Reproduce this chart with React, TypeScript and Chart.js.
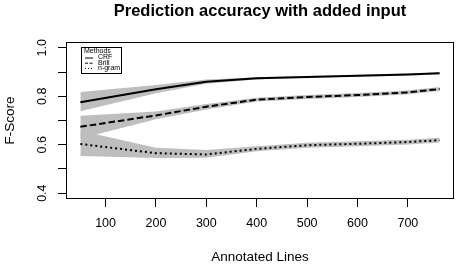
import React, { useEffect, useRef } from "react";
import { Chart, registerables } from "chart.js";

Chart.register(...registerables);

const TITLE = "Prediction accuracy with added input";
const X_TITLE = "Annotated Lines";
const Y_TITLE = "F-Score";
const LEGEND_TITLE = "Methods";

const xValues = [50, 200, 300, 400, 500, 600, 700, 763];

const seriesNames = ["CRF", "Brill", "n-gram"];

const crfMean = [0.775, 0.829, 0.86, 0.874, 0.88, 0.885, 0.89, 0.895];
const crfLow = [0.738, 0.812, 0.852, 0.869, 0.876, 0.881, 0.886, 0.891];
const crfHigh = [0.818, 0.847, 0.869, 0.879, 0.884, 0.889, 0.894, 0.899];

const brillMean = [0.674, 0.721, 0.757, 0.786, 0.797, 0.805, 0.816, 0.83];
const brillLow = [0.626, 0.705, 0.745, 0.778, 0.789, 0.797, 0.808, 0.822];
const brillHigh = [0.72, 0.737, 0.768, 0.794, 0.805, 0.813, 0.824, 0.838];

const ngramMean = [0.603, 0.565, 0.56, 0.583, 0.598, 0.604, 0.611, 0.619];
const ngramLow = [0.553, 0.545, 0.546, 0.573, 0.588, 0.594, 0.601, 0.609];
const ngramHigh = [0.658, 0.588, 0.578, 0.594, 0.608, 0.614, 0.621, 0.629];

const xTickValues = [100, 200, 300, 400, 500, 600, 700];
const yTickValues = [0.4, 0.5, 0.6, 0.7, 0.8, 0.9, 1.0];
const yTickLabels = ["0.4", "", "0.6", "", "0.8", "", "1.0"];

const X_MIN = 21.5;
const X_MAX = 791.5;
const Y_MIN = 0.376;
const Y_MAX = 1.024;

const FONT = "'Liberation Sans', Arial, Helvetica, sans-serif";
const BAND = "#BEBEBE";

const toPts = (ys: number[]) => xValues.map((x, i) => ({ x, y: ys[i] }));

const lineDashes = [[], [6.5, 3], [2, 3]];

const framePlugin = {
  id: "frameBox",
  afterDatasetsDraw(chart: any) {
    const { ctx, chartArea } = chart;
    ctx.save();
    ctx.strokeStyle = "#000";
    ctx.lineWidth = 1;
    ctx.strokeRect(
      Math.round(chartArea.left) + 0.5,
      Math.round(chartArea.top) + 0.5,
      Math.round(chartArea.right - chartArea.left) - 1,
      Math.round(chartArea.bottom - chartArea.top) - 1
    );
    ctx.restore();
  },
};

const legendPlugin = {
  id: "rLegend",
  afterDraw(chart: any) {
    const { ctx, chartArea } = chart;
    const left = chartArea.left + 15;
    const top = chartArea.top + 5;
    const w = 40;
    const h = 26;
    ctx.save();
    ctx.fillStyle = "#fff";
    ctx.fillRect(left, top, w, h);
    ctx.strokeStyle = "#000";
    ctx.lineWidth = 1;
    ctx.strokeRect(left + 0.5, top + 0.5, w, h);
    ctx.fillStyle = "#000";
    ctx.font = `7px ${FONT}`;
    ctx.textBaseline = "middle";
    ctx.textAlign = "left";
    ctx.fillText(LEGEND_TITLE, left + 3, top + 4);
    seriesNames.forEach((name, i) => {
      const y = top + 10.5 + i * 5.2;
      ctx.beginPath();
      ctx.setLineDash(i === 0 ? [] : i === 1 ? [3, 1.5] : [1, 2]);
      ctx.lineWidth = 1;
      ctx.moveTo(left + 4, y + 0.5);
      ctx.lineTo(left + 12, y + 0.5);
      ctx.stroke();
      ctx.setLineDash([]);
      ctx.fillText(name, left + 17, y);
    });
    ctx.restore();
  },
};

export default function App() {
  const ref = useRef<HTMLCanvasElement | null>(null);

  useEffect(() => {
    if (!ref.current) return;
    const means = [crfMean, brillMean, ngramMean];
    const lows = [crfLow, brillLow, ngramLow];
    const highs = [crfHigh, brillHigh, ngramHigh];

    const lineSets = means.map((m, i) => ({
      label: seriesNames[i],
      data: toPts(m),
      borderColor: "#000",
      borderWidth: 2,
      borderDash: lineDashes[i],
      pointRadius: 0,
      fill: false,
      tension: 0,
    }));

    const bandSets: any[] = [];
    highs.forEach((hi, i) => {
      bandSets.push({
        label: seriesNames[i] + " high",
        data: toPts(hi),
        borderColor: "transparent",
        borderWidth: 0,
        backgroundColor: BAND,
        pointRadius: 0,
        fill: "+1",
        tension: 0,
      });
      bandSets.push({
        label: seriesNames[i] + " low",
        data: toPts(lows[i]),
        borderColor: "transparent",
        borderWidth: 0,
        backgroundColor: BAND,
        pointRadius: 0,
        fill: false,
        tension: 0,
      });
    });

    const chart = new Chart(ref.current, {
      type: "line",
      data: { datasets: [...lineSets, ...bandSets] as any },
      plugins: [framePlugin, legendPlugin],
      options: {
        animation: false,
        responsive: false,
        maintainAspectRatio: false,
        layout: { padding: { left: 0, right: 5, top: 0, bottom: 0 } },
        plugins: {
          legend: { display: false },
          tooltip: { enabled: false },
          filler: { drawTime: "beforeDatasetsDraw" } as any,
          title: {
            display: true,
            text: TITLE,
            fullSize: false,
            color: "#000",
            font: { family: FONT, size: 16.5, weight: "bold" },
            padding: { top: 2, bottom: 20.2 },
          },
        },
        scales: {
          x: {
            type: "linear",
            min: X_MIN,
            max: X_MAX,
            afterBuildTicks: (s: any) => {
              s.ticks = xTickValues.map((v) => ({ value: v }));
            },
            afterFit: (s: any) => {
              s.height = 67;
            },
            ticks: {
              color: "#000",
              font: { family: FONT, size: 12.5 },
              padding: 9.5,
              maxRotation: 0,
              autoSkip: false,
              callback: (v: any) => String(v),
            },
            grid: {
              display: true,
              drawOnChartArea: false,
              drawTicks: true,
              tickLength: 8,
              color: "#000",
              lineWidth: 1,
            },
            border: { display: false },
            title: {
              display: true,
              text: X_TITLE,
              color: "#000",
              font: { family: FONT, size: 13.5 },
              padding: { top: 0, bottom: 1 },
            },
          },
          y: {
            type: "linear",
            min: Y_MIN,
            max: Y_MAX,
            afterBuildTicks: (s: any) => {
              s.ticks = yTickValues.map((v) => ({ value: v }));
            },
            afterFit: (s: any) => {
              s.width = 66;
            },
            ticks: {
              color: "#000",
              font: { family: FONT, size: 12.5 },
              padding: 6.5,
              minRotation: 90,
              maxRotation: 90,
              crossAlign: "center",
              autoSkip: false,
              callback: (v: any, i: number) => yTickLabels[i] ?? "",
            },
            grid: {
              display: true,
              drawOnChartArea: false,
              drawTicks: true,
              tickLength: 8,
              color: "#000",
              lineWidth: 1,
            },
            border: { display: false },
            title: {
              display: true,
              text: Y_TITLE,
              color: "#000",
              font: { family: FONT, size: 13.5 },
              padding: { top: 2.4, bottom: 0 },
            },
          },
        },
      } as any,
    });
    return () => chart.destroy();
  }, []);

  return (
    <div style={{ position: "absolute", left: 0, top: 0, width: 459, height: 266, background: "#fff" }}>
      <canvas ref={ref} width={459} height={266} />
    </div>
  );
}
